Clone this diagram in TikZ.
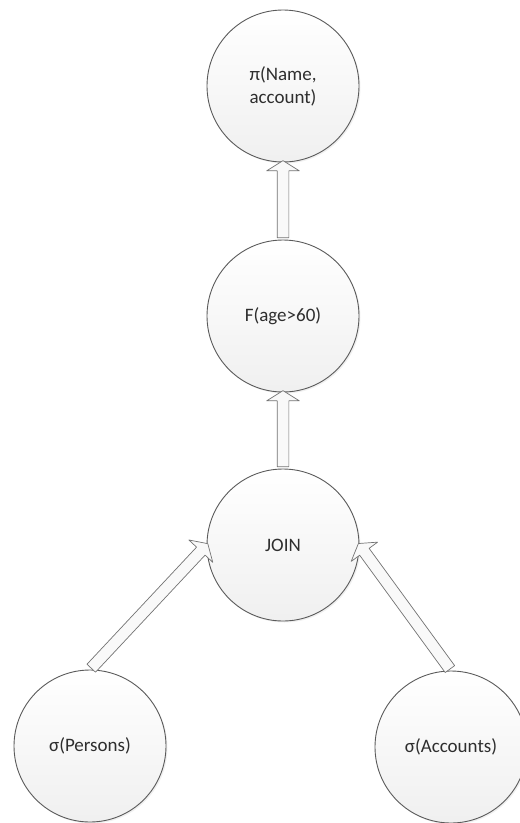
\documentclass[tikz,border=0pt]{standalone}
\usepackage{fontspec}
\setmainfont{Carlito}
\usetikzlibrary{shapes.arrows,calc,shadows}
\definecolor{rim}{HTML}{5A5A5A}
\definecolor{ink}{HTML}{2E2E2E}
\tikzset{
  opnode/.style={circle, draw=rim, line width=0.9pt, minimum size=152pt, inner sep=0pt, align=center, text=ink,
    top color=white, bottom color=gray!12, drop shadow={opacity=0.12, shadow xshift=1.5pt, shadow yshift=-1.5pt}},
  blockarrow/.style={single arrow, draw=rim!85, fill=gray!5, line width=0.7pt, inner sep=5.5pt,
    single arrow head extend=10.5pt, single arrow tip angle=116, anchor=center}
}
% block arrow from node anchor #1 to node anchor #2
\newcommand{\feed}[2]{\path let \p1=($(#2)-(#1)$), \n1={veclen(\x1,\y1)}, \n2={atan2(\y1,\x1)} in
  node[blockarrow, minimum height=\n1, rotate=\n2] at ($(#1)!0.5!(#2)$) {};}
\begin{document}
\begin{tikzpicture}[x=1pt, y=-1pt, font=\fontsize{19}{23}\selectfont, line join=round]
\useasboundingbox (0,0) rectangle (520,823);
\node[opnode] (proj) at (283,86) {π(Name,\\account)};
\node[opnode] (filt) at (283,316) {F(age>60)};
\node[opnode] (join) at (283,545) {JOIN};
\node[opnode] (pers) at (90,746) {σ(Persons)};
\node[opnode] (acct) at (451,747) {σ(Accounts)};
\feed{filt.north}{proj.south}
\feed{join.north}{filt.south}
\feed{pers.north}{join.west}
\feed{acct.north}{join.east}
\end{tikzpicture}
\end{document}
